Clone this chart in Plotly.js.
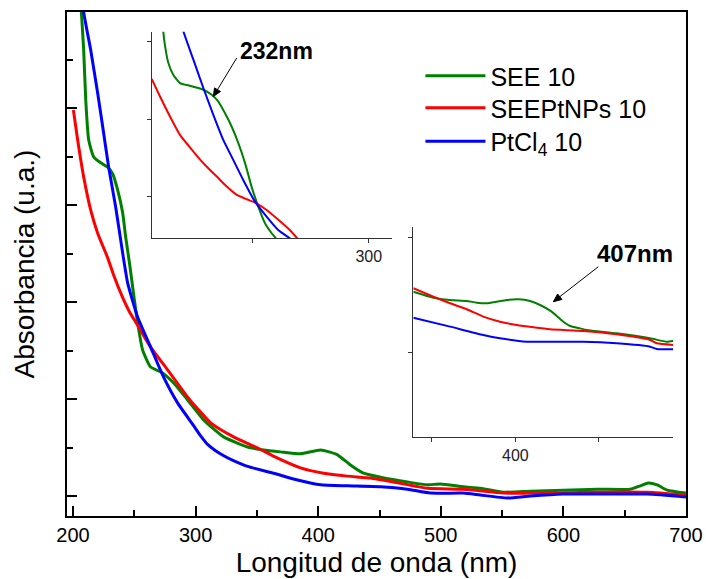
<!DOCTYPE html>
<html>
<head>
<meta charset="utf-8">
<script src="https://cdn.plot.ly/plotly-3.0.1.min.js"></script>
<style>html,body{margin:0;padding:0;background:#fff;}#chart{width:706px;height:579px;}</style>
</head>
<body>
<div id="chart"></div>
<script>
// ---- Main spectra (wavelength nm, absorbance a.u.) ----
const seeWl = [204, 206.8, 208.7, 210.4, 212.8, 216.9, 222.6, 228.3, 232.4, 236.4, 240.5, 242.9, 246.2, 248.7, 252.7, 256.8, 263.3, 271.5, 282.1, 293.5, 306.5, 322.8, 342.4, 355.4, 369.3, 385.6, 401.9, 415.7, 426.3, 436.9, 450.8, 472.8, 489.1, 499.7, 518.4, 532.3, 551.0, 573.0, 599.9, 627.6, 654.5, 662.7, 669.2, 676.5, 684.7, 700];
const seeAbs = [1.10, 0.999, 0.920, 0.816, 0.734, 0.699, 0.687, 0.678, 0.664, 0.631, 0.584, 0.535, 0.478, 0.430, 0.357, 0.301, 0.266, 0.256, 0.233, 0.198, 0.157, 0.122, 0.101, 0.095, 0.091, 0.087, 0.095, 0.085, 0.064, 0.047, 0.039, 0.029, 0.023, 0.025, 0.019, 0.016, 0.008, 0.010, 0.012, 0.014, 0.014, 0.021, 0.027, 0.023, 0.012, 0.006];

const nanoWl = [200.3, 203.8, 208.7, 214.4, 220.1, 228.3, 233.2, 240.0, 246.0, 252.7, 263.3, 277.2, 293.5, 312.3, 331.0, 350.6, 366.9, 385.6, 404.4, 423.9, 442.7, 461.4, 489.1, 518.4, 551.0, 573.0, 599.9, 627.6, 668.4, 700];
const nanoAbs = [0.796, 0.734, 0.658, 0.590, 0.542, 0.491, 0.455, 0.412, 0.380, 0.352, 0.307, 0.260, 0.204, 0.151, 0.122, 0.099, 0.078, 0.058, 0.047, 0.041, 0.037, 0.029, 0.016, 0.014, 0.006, 0.006, 0.006, 0.008, 0.008, 0.002];

const ptWl = [206, 208.7, 214.4, 220.1, 225.0, 229.1, 234.8, 240.5, 244.6, 252.7, 263.3, 273.9, 285.3, 298.4, 304.1, 310.0, 316.0, 323.0, 330.0, 342.4, 363.6, 383.1, 401.9, 423.9, 450.8, 472.8, 491.5, 518.4, 532.3, 554.3, 573.0, 599.9, 627.6, 668.4, 700];
const ptAbs = [1.08, 0.998, 0.920, 0.831, 0.748, 0.678, 0.596, 0.501, 0.439, 0.369, 0.307, 0.245, 0.192, 0.145, 0.124, 0.106, 0.094, 0.083, 0.074, 0.061, 0.047, 0.033, 0.023, 0.021, 0.019, 0.014, 0.006, 0.006, 0.002, -0.004, 0.000, 0.004, 0.004, 0.004, -0.002];

// ---- Inset 1 (around 232 nm) ----
const in1SeeWl = [211.0, 211.3, 212.1, 213.5, 215.6, 218.5, 222.8, 226.4, 228.6, 232.2, 235.0, 237.9, 240.8, 243.7, 246.6, 249.4, 252.3, 255.2, 258.1, 259.9, 261];
const in1SeeAbs = [3.30, 3.133, 2.94, 2.725, 2.574, 2.467, 2.432, 2.403, 2.381, 2.316, 2.230, 2.080, 1.907, 1.693, 1.435, 1.133, 0.875, 0.661, 0.532, 0.467, 0.40];
const in1NanoWl = [206.3, 206.8, 209.9, 214.2, 218.5, 224.3, 228.6, 230.0, 234.4, 238.7, 243.0, 247.3, 250.9, 255.9, 260.2, 265.9, 269.5];
const in1NanoAbs = [2.52, 2.488, 2.294, 2.036, 1.800, 1.585, 1.435, 1.391, 1.262, 1.133, 1.026, 0.970, 0.926, 0.832, 0.725, 0.574, 0.454];
const in1PtWl = [219.5, 220.0, 224.3, 228.6, 232.9, 237.2, 241.5, 245.8, 250.9, 255.9, 260.9, 265.9, 267];
const in1PtAbs = [3.25, 3.133, 2.768, 2.403, 2.058, 1.735, 1.477, 1.219, 0.939, 0.746, 0.574, 0.467, 0.44];

// ---- Inset 2 (around 407 nm) ----
const in2SeeWl = [338.9, 350.9, 360.9, 370.9, 376.9, 382.9, 388.9, 394.9, 401.8, 408.8, 414.8, 420.8, 424.8, 428.7, 432.8, 438.7, 442.8, 460.7, 480.7, 490.7, 494.6];
const in2SeeAbs = [1.533, 1.481, 1.461, 1.452, 1.437, 1.432, 1.446, 1.461, 1.467, 1.452, 1.417, 1.368, 1.322, 1.272, 1.235, 1.214, 1.200, 1.171, 1.128, 1.098, 1.107];
const in2NanoWl = [338.9, 350.9, 360.9, 370.9, 380.8, 390.8, 400.8, 410.8, 420.8, 440.7, 460.7, 480.7, 484.7, 494.6];
const in2NanoAbs = [1.563, 1.490, 1.432, 1.380, 1.316, 1.272, 1.243, 1.223, 1.206, 1.191, 1.162, 1.113, 1.084, 1.070];
const in2PtWl = [338.9, 360.9, 380.8, 390.8, 406.8, 420.8, 440.7, 460.7, 480.7, 484.7, 494.6];
const in2PtAbs = [1.307, 1.229, 1.157, 1.128, 1.098, 1.098, 1.098, 1.084, 1.055, 1.035, 1.032];

// Peak labels and the points they mark
const peakLabels = ['232nm', '407nm'];
const peakAt = [[232.9, 2.294], [422.8, 1.446]];

const seriesNames = ['SEE 10', 'SEEPtNPs 10', 'PtCl<sub>4</sub> 10'];
const seriesColors = ['#008000', '#ff0000', '#0000ff'];
const legendIds = ['legend', 'legend2', 'legend3'];

const FONT = 'Arial, "Liberation Sans", sans-serif';

function tr(x, y, i, xa, ya, w, show) {
  const t = {
    x: x, y: y, type: 'scatter', mode: 'lines',
    name: seriesNames[i], showlegend: show,
    xaxis: xa, yaxis: ya,
    line: {color: seriesColors[i], width: w, shape: 'spline', smoothing: 0.5},
    hoverinfo: 'skip'
  };
  if (show) t.legend = legendIds[i];
  return t;
}

const data = [
  tr(seeWl, seeAbs, 0, 'x', 'y', 3, true),
  tr(nanoWl, nanoAbs, 1, 'x', 'y', 3, true),
  tr(ptWl, ptAbs, 2, 'x', 'y', 3, true),
  tr(in1SeeWl, in1SeeAbs, 0, 'x2', 'y2', 2, false),
  tr(in1NanoWl, in1NanoAbs, 1, 'x2', 'y2', 2, false),
  tr(in1PtWl, in1PtAbs, 2, 'x2', 'y2', 2, false),
  tr(in2SeeWl, in2SeeAbs, 0, 'x3', 'y3', 2, false),
  tr(in2NanoWl, in2NanoAbs, 1, 'x3', 'y3', 2, false),
  tr(in2PtWl, in2PtAbs, 2, 'x3', 'y3', 2, false)
];

const insetAxis = {
  showline: true, linecolor: '#333', linewidth: 1, mirror: false,
  ticks: 'outside', ticklen: 4, tickwidth: 1, tickcolor: '#333',
  showgrid: false, zeroline: false, fixedrange: true
};

function legendAt(yPaper) {
  return {
    x: 0.571, y: yPaper, xanchor: 'left', yanchor: 'middle',
    bgcolor: 'rgba(0,0,0,0)', borderwidth: 0,
    font: {family: FONT, size: 25, color: '#000'},
    itemwidth: 60, tracegroupgap: 0
  };
}

// arrow = line from label to peak + small filled head (pixel-sized, anchored at the peak)
function arrowShapes(xa, ya, tail, head, headPath) {
  return [
    {type: 'line', xref: xa, yref: ya, x0: tail[0], y0: tail[1], x1: head[0], y1: head[1],
     line: {color: '#000', width: 1}},
    {type: 'path', xref: xa, yref: ya, xsizemode: 'pixel', ysizemode: 'pixel',
     xanchor: head[0], yanchor: head[1], path: headPath,
     fillcolor: '#000', line: {color: '#000', width: 1}}
  ];
}

const layout = {
  width: 706, height: 579,
  margin: {l: 67, r: 20, t: 12, b: 63},
  paper_bgcolor: '#fff', plot_bgcolor: '#fff',
  font: {family: FONT, color: '#000'},
  showlegend: true,
  legend: legendAt(0.873),
  legend2: legendAt(0.8095),
  legend3: legendAt(0.743),
  xaxis: {
    domain: [0, 1], range: [195.1, 700],
    showline: true, mirror: true, linecolor: '#000', linewidth: 2,
    ticks: 'inside', ticklen: 10, tickwidth: 2, tickcolor: '#000',
    tick0: 200, dtick: 100,
    minor: {ticks: 'inside', ticklen: 6, tickwidth: 2, dtick: 50, tick0: 200, tickcolor: '#000', showgrid: false},
    showgrid: false, zeroline: false,
    tickfont: {family: FONT, size: 20, color: '#000'},
    title: {text: 'Longitud de onda (nm)', font: {family: FONT, size: 28, color: '#000'}, standoff: 7}
  },
  yaxis: {
    domain: [0, 1], range: [-0.0412, 0.998],
    showline: true, mirror: true, linecolor: '#000', linewidth: 2,
    ticks: 'inside', ticklen: 10, tickwidth: 2, tickcolor: '#000',
    tick0: 0, dtick: 0.2,
    minor: {ticks: 'inside', ticklen: 6, tickwidth: 2, dtick: 0.1, tick0: 0, tickcolor: '#000', showgrid: false},
    showticklabels: false, showgrid: false, zeroline: false,
    title: {text: 'Absorbancia (u.a.)', font: {family: FONT, size: 28, color: '#000'}, standoff: 22}
  },
  xaxis2: Object.assign({}, insetAxis, {
    domain: [0.1368, 0.525], anchor: 'y2', range: [206.3, 310],
    tick0: 0, dtick: 100,
    minor: {ticks: 'outside', ticklen: 4, dtick: 50, tick0: 0, tickcolor: '#333', showgrid: false},
    tickfont: {family: FONT, size: 16, color: '#222'}
  }),
  yaxis2: Object.assign({}, insetAxis, {
    domain: [0.5516, 0.961], anchor: 'x2', range: [0.471, 3.129],
    tick0: 0, dtick: 1, showticklabels: false
  }),
  xaxis3: Object.assign({}, insetAxis, {
    domain: [0.5595, 0.9795], anchor: 'y3', range: [338.9, 494.6],
    tick0: 0, dtick: 100,
    minor: {ticks: 'outside', ticklen: 4, dtick: 50, tick0: 0, tickcolor: '#333', showgrid: false},
    tickfont: {family: FONT, size: 16, color: '#222'}
  }),
  yaxis3: Object.assign({}, insetAxis, {
    domain: [0.1562, 0.574], anchor: 'x3', range: [0.267, 2.098],
    tick0: 0, dtick: 1, showticklabels: false
  }),
  shapes: [].concat(
    arrowShapes('x2', 'y2', [243.0, 2.79], peakAt[0], 'M0,0 L7.2,5.0 L1.2,8.6 Z'),
    arrowShapes('x3', 'y3', [449.7, 1.750], peakAt[1], 'M0,0 L8.5,2.2 L4.2,7.7 Z')
  ),
  annotations: [
    {xref: 'x2', yref: 'y2', x: 260.2, y: 2.875, text: '<b>' + peakLabels[0] + '</b>', showarrow: false,
     font: {family: FONT, size: 23, color: '#000'}},
    {xref: 'x3', yref: 'y3', x: 471.7, y: 1.867, text: '<b>' + peakLabels[1] + '</b>', showarrow: false,
     font: {family: FONT, size: 24, color: '#000'}}
  ]
};

Plotly.newPlot('chart', data, layout, {displayModeBar: false, staticPlot: true});
</script>
</body>
</html>
